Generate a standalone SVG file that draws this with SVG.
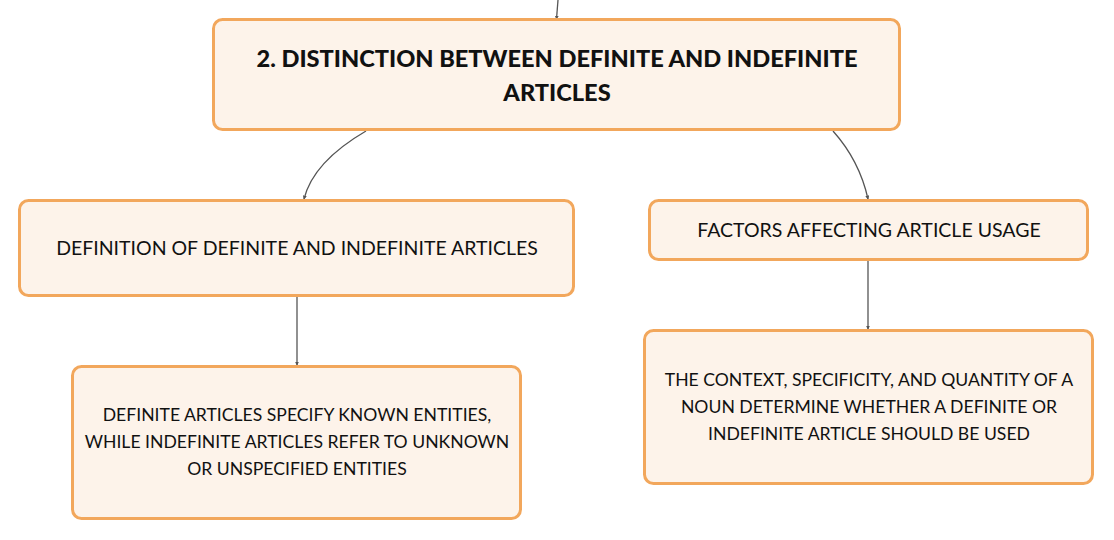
<svg xmlns="http://www.w3.org/2000/svg" width="1114" height="540" viewBox="0 0 1114 540">
<style>
.box{fill:#fdf3ea;stroke:#f2a75c;stroke-width:3}
.t{font-family:Lato,"Open Sans","Liberation Sans",sans-serif;fill:#111;text-anchor:middle}
.title{font-size:23.6px;font-weight:900}
.lbl{font-size:19.5px}
.body{font-size:17.6px}
.edge{fill:none;stroke:#555;stroke-width:1.3;marker-end:url(#arr)}
</style>
<defs>
<marker id="arr" viewBox="0 0 6 6" refX="5" refY="3" markerWidth="4" markerHeight="4" orient="auto" markerUnits="userSpaceOnUse">
<path d="M0,0 L6,3 L0,6 z" fill="#555"/>
</marker>
</defs>
<rect width="1114" height="540" fill="#fff"/>
<g id="connectors">
<path class="edge" d="M558,0 L556.5,19"/>
<path class="edge" d="M366,131 C330,152 310,175 304,199"/>
<path class="edge" d="M833,131 C850,150 862,172 868,199"/>
<path class="edge" d="M297,297 L297,365"/>
<path class="edge" d="M868,261 L868,329"/>
</g>
<g id="node-main">
<rect class="box" x="213.5" y="19.5" width="686" height="110" rx="9"/>
<text class="t title" x="557" y="66.5">2. DISTINCTION BETWEEN DEFINITE AND INDEFINITE</text>
<text class="t title" x="557" y="101">ARTICLES</text>
</g>
<g id="node-definition">
<rect class="box" x="19.5" y="200.5" width="554" height="95" rx="9"/>
<text class="t lbl" x="297" y="255">DEFINITION OF DEFINITE AND INDEFINITE ARTICLES</text>
</g>
<g id="node-factors">
<rect class="box" x="649.5" y="200.5" width="438" height="59" rx="9"/>
<text class="t lbl" x="869" y="237">FACTORS AFFECTING ARTICLE USAGE</text>
</g>
<g id="node-definite-desc">
<rect class="box" x="72.5" y="366.5" width="448" height="152" rx="9"/>
<text class="t body" x="297" y="421">DEFINITE ARTICLES SPECIFY KNOWN ENTITIES,</text>
<text class="t body" x="297" y="448">WHILE INDEFINITE ARTICLES REFER TO UNKNOWN</text>
<text class="t body" x="297" y="475">OR UNSPECIFIED ENTITIES</text>
</g>
<g id="node-factors-desc">
<rect class="box" x="644.5" y="330.5" width="448" height="153" rx="9"/>
<text class="t body" x="869" y="386">THE CONTEXT, SPECIFICITY, AND QUANTITY OF A</text>
<text class="t body" x="869" y="413">NOUN DETERMINE WHETHER A DEFINITE OR</text>
<text class="t body" x="869" y="440">INDEFINITE ARTICLE SHOULD BE USED</text>
</g>
</svg>
